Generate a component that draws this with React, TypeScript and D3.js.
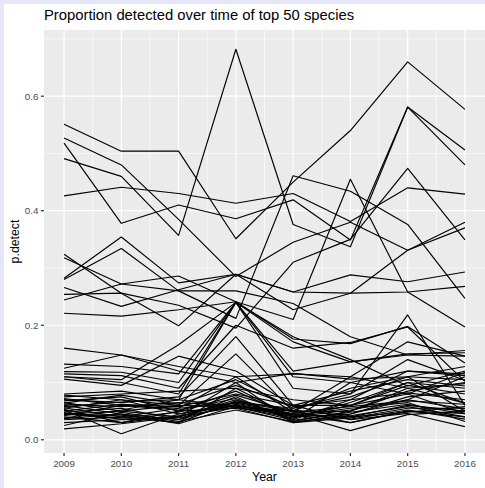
import React from "react";
import * as d3 from "d3";

// years on the x axis
const years = [2009, 2010, 2011, 2012, 2013, 2014, 2015, 2016];
const yTicks = [0, 0.2, 0.4, 0.6];
const yMinor = [0.1, 0.3, 0.5, 0.7];

// species that reach the upper part of the panel
const upperSeries = [
  [0.551, 0.504, 0.504, 0.351, 0.45, 0.54, 0.66, 0.577],
  [0.491, 0.46, 0.357, 0.682, 0.376, 0.337, 0.581, 0.506],
  [0.518, 0.378, 0.41, 0.386, 0.419, 0.349, 0.581, 0.48],
  [0.426, 0.441, 0.43, 0.413, 0.43, 0.381, 0.44, 0.429],
  [0.527, 0.48, 0.385, 0.285, 0.345, 0.38, 0.331, 0.38],
  [0.244, 0.272, 0.26, 0.212, 0.461, 0.434, 0.376, 0.247],
  [0.324, 0.256, 0.235, 0.195, 0.31, 0.35, 0.474, 0.349],
];

// species in the 0.2 - 0.35 band
const middleSeries = [
  [0.221, 0.216, 0.227, 0.241, 0.21, 0.455, 0.258, 0.197],
  [0.318, 0.272, 0.286, 0.241, 0.176, 0.168, 0.198, 0.134],
  [0.282, 0.354, 0.274, 0.289, 0.258, 0.256, 0.258, 0.268],
  [0.28, 0.334, 0.26, 0.26, 0.238, 0.18, 0.148, 0.146],
  [0.266, 0.233, 0.262, 0.289, 0.258, 0.288, 0.276, 0.293],
  [0.254, 0.256, 0.199, 0.289, 0.227, 0.256, 0.331, 0.37],
];

// the dense band of rarely detected species
const lowerSeries = [
  [0.16, 0.148, 0.12, 0.1, 0.116, 0.106, 0.11, 0.128],
  [0.132, 0.128, 0.115, 0.24, 0.171, 0.136, 0.148, 0.156],
  [0.125, 0.148, 0.128, 0.11, 0.115, 0.11, 0.171, 0.146],
  [0.119, 0.118, 0.1, 0.24, 0.11, 0.1, 0.12, 0.112],
  [0.115, 0.112, 0.09, 0.2, 0.16, 0.17, 0.197, 0.102],
  [0.11, 0.105, 0.166, 0.24, 0.09, 0.08, 0.218, 0.06],
  [0.106, 0.095, 0.146, 0.12, 0.06, 0.06, 0.1, 0.09],
  [0.08, 0.085, 0.07, 0.24, 0.18, 0.14, 0.094, 0.12],
  [0.078, 0.07, 0.06, 0.15, 0.05, 0.09, 0.11, 0.105],
  [0.075, 0.08, 0.085, 0.09, 0.07, 0.06, 0.08, 0.046],
  [0.072, 0.06, 0.055, 0.11, 0.048, 0.05, 0.09, 0.064],
  [0.068, 0.075, 0.05, 0.085, 0.04, 0.045, 0.07, 0.11],
  [0.065, 0.05, 0.04, 0.07, 0.035, 0.07, 0.12, 0.115],
  [0.062, 0.058, 0.065, 0.06, 0.045, 0.04, 0.06, 0.05],
  [0.06, 0.045, 0.035, 0.075, 0.032, 0.05, 0.085, 0.1],
  [0.058, 0.066, 0.07, 0.058, 0.05, 0.03, 0.05, 0.04],
  [0.056, 0.04, 0.03, 0.09, 0.04, 0.06, 0.095, 0.08],
  [0.055, 0.07, 0.045, 0.065, 0.055, 0.08, 0.14, 0.104],
  [0.053, 0.03, 0.05, 0.055, 0.03, 0.038, 0.055, 0.055],
  [0.052, 0.0105, 0.045, 0.06, 0.042, 0.055, 0.065, 0.032],
  [0.05, 0.062, 0.058, 0.08, 0.06, 0.035, 0.046, 0.023],
  [0.048, 0.055, 0.035, 0.062, 0.045, 0.016, 0.044, 0.05],
  [0.047, 0.036, 0.04, 0.1, 0.03, 0.045, 0.075, 0.085],
  [0.045, 0.05, 0.06, 0.057, 0.038, 0.065, 0.1, 0.064],
  [0.044, 0.043, 0.03, 0.068, 0.052, 0.042, 0.058, 0.04],
  [0.042, 0.06, 0.052, 0.072, 0.036, 0.1, 0.08, 0.118],
  [0.04, 0.03, 0.042, 0.056, 0.044, 0.03, 0.05, 0.046],
  [0.038, 0.052, 0.07, 0.105, 0.055, 0.075, 0.11, 0.05],
  [0.037, 0.045, 0.028, 0.058, 0.034, 0.048, 0.062, 0.045],
  [0.035, 0.04, 0.055, 0.064, 0.046, 0.036, 0.052, 0.036],
  [0.03, 0.035, 0.038, 0.06, 0.04, 0.052, 0.07, 0.054],
  [0.025, 0.048, 0.032, 0.052, 0.032, 0.04, 0.048, 0.058],
  [0.019, 0.028, 0.04, 0.066, 0.05, 0.11, 0.09, 0.098],
  [0.11, 0.1, 0.08, 0.24, 0.12, 0.136, 0.15, 0.152],
  [0.07, 0.065, 0.075, 0.18, 0.06, 0.085, 0.105, 0.094],
  [0.064, 0.078, 0.062, 0.095, 0.058, 0.07, 0.082, 0.07],
  [0.046, 0.038, 0.048, 0.078, 0.048, 0.058, 0.068, 0.062],
];

const W = 485;
const H = 488;
const panel = { left: 44, right: 485, top: 30, bottom: 453 };
const font = "'Liberation Sans', Arial, Helvetica, sans-serif";
const tick = 3.1;

export default function App() {
  const all = [...upperSeries, ...middleSeries, ...lowerSeries];
  const flat = all.flat();
  const lo = d3.min(flat)!;
  const hi = d3.max(flat)!;
  const pad = (hi - lo) * 0.05;

  const xSpan = (years[years.length - 1] - years[0]) * 0.05;
  const x = d3
    .scaleLinear()
    .domain([years[0] - xSpan, years[years.length - 1] + xSpan])
    .range([panel.left, panel.right]);
  const y = d3
    .scaleLinear()
    .domain([lo - pad, hi + pad])
    .range([panel.bottom, panel.top]);

  const line = d3
    .line<number>()
    .x((_, i) => x(years[i]))
    .y((d) => y(d));

  const minorYears = years.slice(0, -1).map((d) => d + 0.5);

  return (
    <svg
      width={W}
      height={H}
      style={{ position: "absolute", left: 0, top: 0, display: "block" }}
    >
      <rect width={W} height={H} fill="#e6e6fa" />
      <rect x={4} y={4} width={W - 4} height={H - 4} fill="#fff" />

      <text x={panel.left} y={20} fontFamily={font} fontSize={14.8} fill="#000">
        Proportion detected over time of top 50 species
      </text>

      <rect
        x={panel.left}
        y={panel.top}
        width={panel.right - panel.left}
        height={panel.bottom - panel.top}
        fill="#ebebeb"
      />
      <clipPath id="pclip">
        <rect
          x={panel.left}
          y={panel.top}
          width={panel.right - panel.left}
          height={panel.bottom - panel.top}
        />
      </clipPath>
      <g clipPath="url(#pclip)">
        {yMinor.map((t) => (
          <line key={"ym" + t} x1={panel.left} x2={panel.right} y1={y(t)} y2={y(t)} stroke="#fff" strokeWidth={0.6} />
        ))}
        {minorYears.map((t) => (
          <line key={"xm" + t} x1={x(t)} x2={x(t)} y1={panel.top} y2={panel.bottom} stroke="#fff" strokeWidth={0.6} />
        ))}
        {yTicks.map((t) => (
          <line key={"yM" + t} x1={panel.left} x2={panel.right} y1={y(t)} y2={y(t)} stroke="#fff" strokeWidth={1.2} />
        ))}
        {years.map((t) => (
          <line key={"xM" + t} x1={x(t)} x2={x(t)} y1={panel.top} y2={panel.bottom} stroke="#fff" strokeWidth={1.2} />
        ))}
        {all.map((s, i) => (
          <path key={i} d={line(s)!} fill="none" stroke="#000" strokeWidth={1.15} strokeLinejoin="round" />
        ))}
      </g>

      {yTicks.map((t) => (
        <g key={"yt" + t}>
          <line x1={panel.left - tick} x2={panel.left} y1={y(t)} y2={y(t)} stroke="#333" strokeWidth={1.2} />
          <text
            x={panel.left - tick - 2.5}
            y={y(t)}
            dy="0.35em"
            textAnchor="end"
            fontFamily={font}
            fontSize={9.8}
            fill="#4d4d4d"
          >
            {t.toFixed(1)}
          </text>
        </g>
      ))}
      {years.map((t) => (
        <g key={"xt" + t}>
          <line x1={x(t)} x2={x(t)} y1={panel.bottom} y2={panel.bottom + tick} stroke="#333" strokeWidth={1.2} />
          <text
            x={x(t)}
            y={466.5}
            textAnchor="middle"
            fontFamily={font}
            fontSize={9.8}
            fill="#4d4d4d"
          >
            {t}
          </text>
        </g>
      ))}

      <text
        x={(panel.left + panel.right) / 2}
        y={481}
        textAnchor="middle"
        fontFamily={font}
        fontSize={12.3}
        fill="#000"
      >
        Year
      </text>
      <text
        transform={`translate(19,${(panel.top + panel.bottom) / 2}) rotate(-90)`}
        textAnchor="middle"
        fontFamily={font}
        fontSize={12.3}
        fill="#000"
      >
        p.detect
      </text>
    </svg>
  );
}
